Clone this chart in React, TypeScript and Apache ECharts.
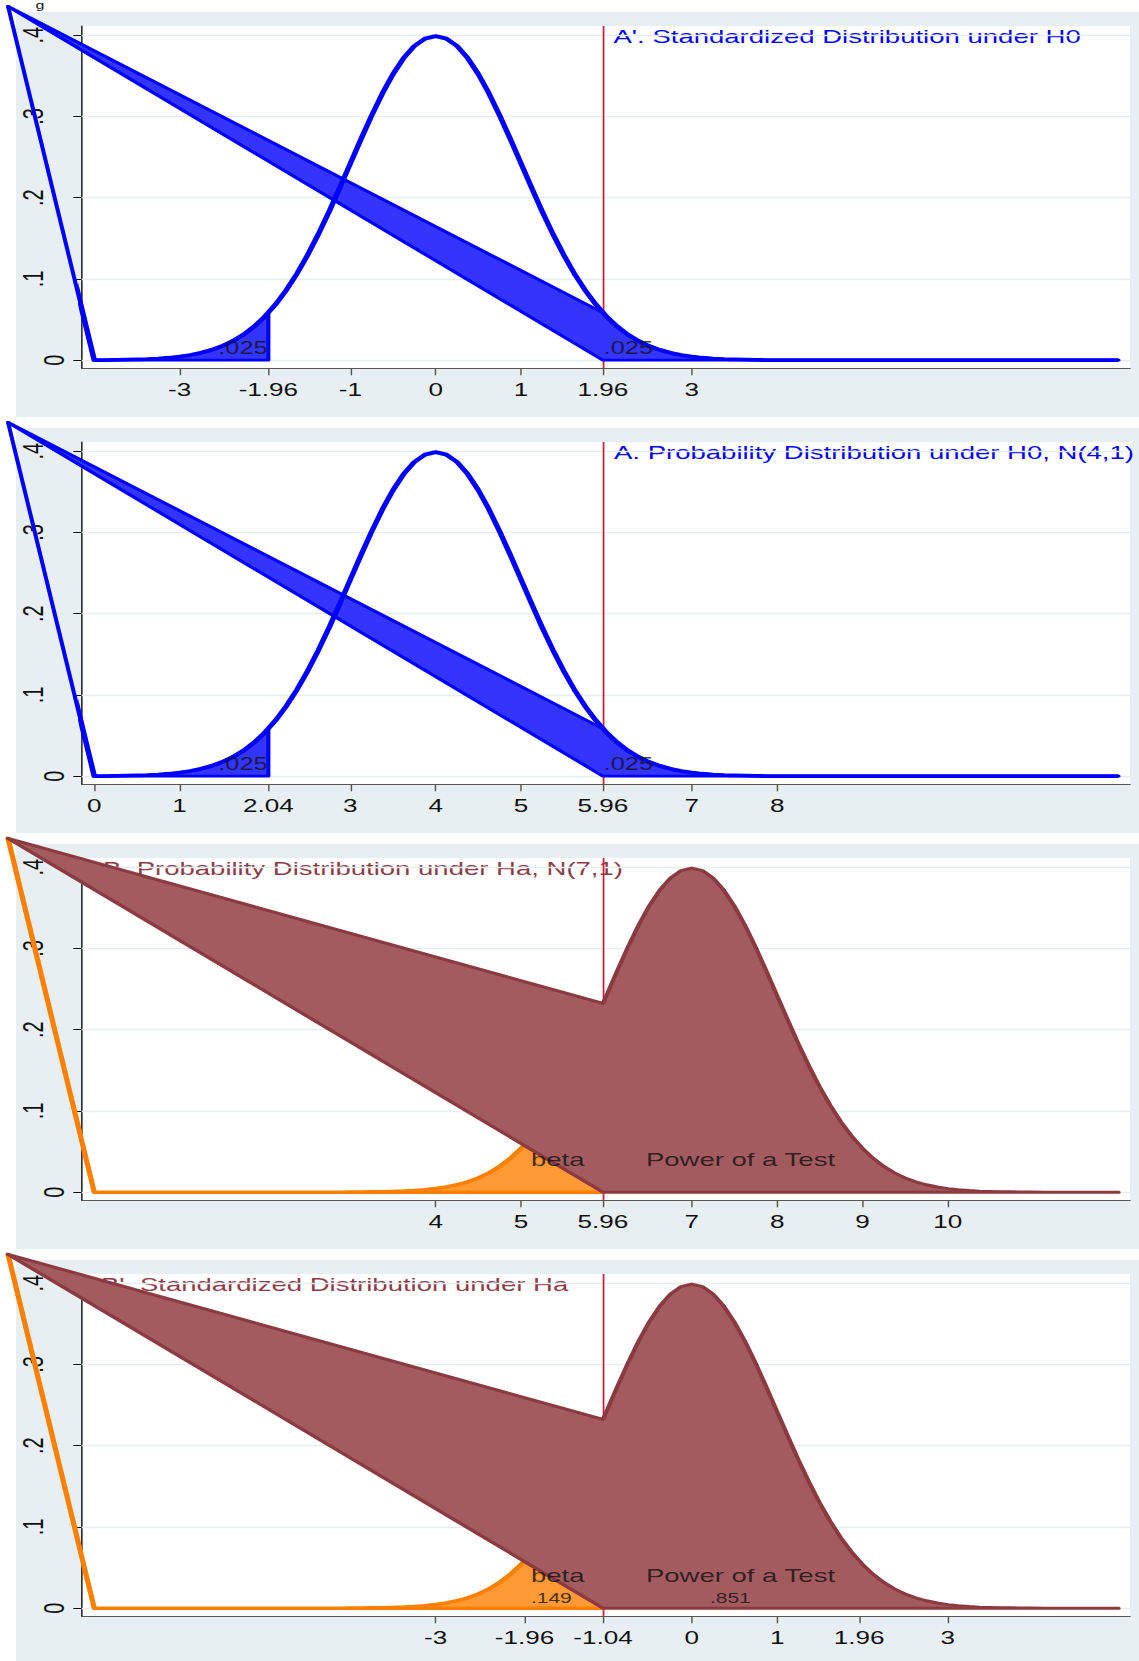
import React, { useEffect, useRef } from 'react';
import * as echarts from 'echarts';

// ---------------- data ----------------
const xGrid = [
  0, 0.125, 0.25, 0.375, 0.5, 0.625, 0.75, 0.875, 1, 1.125, 1.25, 1.375, 1.5, 1.625, 1.75, 1.875,
  2, 2.125, 2.25, 2.375, 2.5, 2.625, 2.75, 2.875, 3, 3.125, 3.25, 3.375, 3.5, 3.625, 3.75, 3.875,
  4, 4.125, 4.25, 4.375, 4.5, 4.625, 4.75, 4.875, 5, 5.125, 5.25, 5.375, 5.5, 5.625, 5.75, 5.875,
  6, 6.125, 6.25, 6.375, 6.5, 6.625, 6.75, 6.875, 7, 7.125, 7.25, 7.375, 7.5, 7.625, 7.75, 7.875,
  8, 8.125, 8.25, 8.375, 8.5, 8.625, 8.75, 8.875, 9, 9.125, 9.25, 9.375, 9.5, 9.625, 9.75, 9.875,
  10, 10.125, 10.25, 10.375, 10.5, 10.625, 10.75, 10.875, 11, 11.125, 11.25, 11.375, 11.5, 11.625, 11.75, 11.875,
  12,
];
// density of N(4,1) (H0) read at xGrid
const densityH0 = [
  0.0001, 0.0002, 0.0004, 0.0006, 0.0009, 0.0013, 0.002, 0.003, 0.0044, 0.0064, 0.0091, 0.0127, 0.0175, 0.0238, 0.0317, 0.0417,
  0.054, 0.0688, 0.0863, 0.1065, 0.1295, 0.155, 0.1826, 0.2119, 0.242, 0.2721, 0.3011, 0.3282, 0.3521, 0.3718, 0.3867, 0.3958,
  0.3989, 0.3958, 0.3867, 0.3718, 0.3521, 0.3282, 0.3011, 0.2721, 0.242, 0.2119, 0.1826, 0.155, 0.1295, 0.1065, 0.0863, 0.0688,
  0.054, 0.0417, 0.0317, 0.0238, 0.0175, 0.0127, 0.0091, 0.0064, 0.0044, 0.003, 0.002, 0.0013, 0.0009, 0.0006, 0.0004, 0.0002,
  0.0001, 0, 0, 0, 0, 0, 0, 0, 0, 0, 0, 0, 0, 0, 0, 0,
  0, 0, 0, 0, 0, 0, 0, 0, 0, 0, 0, 0, 0, 0, 0, 0,
  0,
];
// density of N(7,1) (Ha) read at xGrid
const densityHa = [
  0, 0, 0, 0, 0, 0, 0, 0, 0, 0, 0, 0, 0, 0, 0, 0,
  0, 0, 0, 0, 0, 0, 0, 0, 0.0001, 0.0002, 0.0004, 0.0006, 0.0009, 0.0013, 0.002, 0.003,
  0.0044, 0.0064, 0.0091, 0.0127, 0.0175, 0.0238, 0.0317, 0.0417, 0.054, 0.0688, 0.0863, 0.1065, 0.1295, 0.155, 0.1826, 0.2119,
  0.242, 0.2721, 0.3011, 0.3282, 0.3521, 0.3718, 0.3867, 0.3958, 0.3989, 0.3958, 0.3867, 0.3718, 0.3521, 0.3282, 0.3011, 0.2721,
  0.242, 0.2119, 0.1826, 0.155, 0.1295, 0.1065, 0.0863, 0.0688, 0.054, 0.0417, 0.0317, 0.0238, 0.0175, 0.0127, 0.0091, 0.0064,
  0.0044, 0.003, 0.002, 0.0013, 0.0009, 0.0006, 0.0004, 0.0002, 0.0001, 0, 0, 0, 0, 0, 0, 0,
  0,
];

const critLow = 2.04;
const critHigh = 5.96;
const densityH0AtCrit = 0.0584;
const densityHaAtCrit = 0.2323;
// stray first vertex of the drawn polygons (in N(4,1) axis units)
const strayVertex: [number, number] = [-1.01, 0.4355];

const ticksA1 = [-3, -1.96, -1, 0, 1, 1.96, 3];
const ticksA = [0, 1, 2.04, 3, 4, 5, 5.96, 7, 8];
const ticksB = [4, 5, 5.96, 7, 8, 9, 10];
const ticksB1 = [-3, -1.96, -1.04, 0, 1, 1.96, 3];
const yTicks = [0, 0.1, 0.2, 0.3, 0.4];

const titleA1 = "A'. Standardized Distribution under H0";
const titleA = 'A. Probability Distribution under H0, N(4,1)';
const titleB = 'B. Probability Distribution under Ha, N(7,1)';
const titleB1 = "B'. Standardized Distribution under Ha";

type Note = { x: number; y: number; text: string; side: 'left' | 'right'; size: number };
const notesA1: Note[] = [
  { x: -1.96, y: 0.0146, text: '.025', side: 'left', size: 17.5 },
  { x: 1.96, y: 0.0146, text: '.025', side: 'right', size: 17.5 },
];
const notesA: Note[] = [
  { x: 2.04, y: 0.0146, text: '.025', side: 'left', size: 17.5 },
  { x: 5.96, y: 0.0146, text: '.025', side: 'right', size: 17.5 },
];
const notesB: Note[] = [
  { x: 5.107, y: 0.0404, text: 'beta', side: 'right', size: 19 },
  { x: 6.454, y: 0.0404, text: 'Power of a Test', side: 'right', size: 19 },
];
const notesB1: Note[] = [
  { x: -1.893, y: 0.0404, text: 'beta', side: 'right', size: 19 },
  { x: -1.893, y: 0.0129, text: '.149', side: 'right', size: 14.5 },
  { x: -0.546, y: 0.0404, text: 'Power of a Test', side: 'right', size: 19 },
  { x: 0.204, y: 0.0129, text: '.851', side: 'right', size: 14.5 },
];

// ---------------- layout / style ----------------
const CHART_W = 786;
const STRETCH = 1139 / CHART_W;
const px = (v: number) => v / STRETCH;
const PANEL_STEP = 416;
const GRID_LEFT = 81.7;
const GRID_RIGHT = 1130;
const GRID_TOP = 26;
const GRID_H = 342.3;
const Y_MIN = -0.00997;
const Y_MAX = 0.41132;
const X_PAD_LEFT = 0.147;
const X_PAD_RIGHT = 0.134;
const FONT = "'Liberation Sans', Arial, Helvetica, sans-serif";
const BG = '#e8eff2';
const GRIDC = '#e6edf0';
const RED = '#cc1a3c';
const BLUE = '#0000ff';
const BLUE_FILL = '#3434ff';
const MAROON = '#8b3a40';
const MAROON_FILL = '#a45b60';
const ORANGE = '#ff8000';
const ORANGE_FILL = '#ff9a35';

type Pt = [number, number];

const gridPts = (ys: number[], pred: (x: number) => boolean): Pt[] =>
  xGrid.map((x, i) => [x, ys[i]] as Pt).filter(([x]) => pred(x));

const areaPolygon = (pts: Pt[]): Pt[] => [
  strayVertex,
  ...pts,
  [pts[pts.length - 1][0], 0],
  [pts[0][0], 0],
];

const shiftPts = (pts: Pt[], s: number): Pt[] => pts.map(([x, y]) => [x + s, y] as Pt);

const leftTailH0 = areaPolygon([...gridPts(densityH0, (x) => x < critLow), [critLow, densityH0AtCrit]]);
const rightTailH0 = areaPolygon([[critHigh, densityH0AtCrit], ...gridPts(densityH0, (x) => x > critHigh)]);
const betaHa = areaPolygon([...gridPts(densityHa, (x) => x < critHigh), [critHigh, densityHaAtCrit]]);
const powerHa = areaPolygon([[critHigh, densityHaAtCrit], ...gridPts(densityHa, (x) => x > critHigh)]);
const fullH0Line: Pt[] = [strayVertex, ...gridPts(densityH0, () => true)];

type Panel = {
  kind: 'H0' | 'Ha';
  shift: number;
  ticks: number[];
  title: string;
  titleX: number;
  titleColor: string;
  notes: Note[];
};

const panels: Panel[] = [
  { kind: 'H0', shift: -4, ticks: ticksA1, title: titleA1, titleX: 613.5, titleColor: BLUE, notes: notesA1 },
  { kind: 'H0', shift: 0, ticks: ticksA, title: titleA, titleX: 614, titleColor: BLUE, notes: notesA },
  { kind: 'Ha', shift: 0, ticks: ticksB, title: titleB, titleX: 103, titleColor: '#8c3c48', notes: notesB },
  { kind: 'Ha', shift: -7, ticks: ticksB1, title: titleB1, titleX: 101, titleColor: '#8c3c48', notes: notesB1 },
];

function polygonSeries(idx: number, pts: Pt[], fill: string, stroke: string, lw: number, z: number) {
  return {
    type: 'custom',
    xAxisIndex: idx,
    yAxisIndex: idx,
    clip: false,
    silent: true,
    z,
    data: [pts[0]],
    renderItem: (_params: any, api: any) => ({
      type: 'polygon',
      shape: { points: pts.map((p) => api.coord(p)) },
      style: { fill, stroke, lineWidth: lw, lineJoin: 'round' },
    }),
  };
}

function buildOption() {
  const grid: any[] = [];
  const xAxis: any[] = [];
  const yAxis: any[] = [];
  const series: any[] = [];
  const graphic: any[] = [];

  panels.forEach((p, i) => {
    const off = PANEL_STEP * i;
    grid.push({
      left: px(GRID_LEFT),
      right: px(1139 - GRID_RIGHT),
      top: GRID_TOP + off,
      height: GRID_H,
      show: true,
      backgroundColor: '#ffffff',
      borderWidth: 0,
      containLabel: false,
    });
    xAxis.push({
      type: 'value',
      gridIndex: i,
      min: p.shift - X_PAD_LEFT,
      max: p.shift + 12 + X_PAD_RIGHT,
      axisLine: { show: true, onZero: false, lineStyle: { color: '#555', width: 1 } },
      axisTick: { show: true, customValues: p.ticks, length: 7, lineStyle: { color: '#555', width: 1 } },
      axisLabel: {
        customValues: p.ticks,
        formatter: (v: number) => String(v),
        fontSize: 18,
        fontFamily: FONT,
        color: '#111',
        margin: 13,
      },
      splitLine: { show: false },
    });
    yAxis.push({
      type: 'value',
      gridIndex: i,
      min: Y_MIN,
      max: Y_MAX,
      axisLine: { show: true, onZero: false, lineStyle: { color: '#111', width: 1 } },
      axisTick: { show: true, customValues: yTicks, length: 5.8, lineStyle: { color: '#111', width: 1 } },
      axisLabel: {
        customValues: yTicks,
        rotate: 90,
        margin: 9.6,
        fontSize: 20,
        fontFamily: FONT,
        color: '#111',
        formatter: (v: number) => (v === 0 ? '{z|0}' : '{d|' + String(v).replace(/^0/, '') + '}'),
        rich: {
          z: { fontSize: 20, fontFamily: FONT, color: '#111' },
          d: { fontSize: 20, fontFamily: FONT, color: '#111', padding: [0, 0, 14, 0] },
        },
      },
      splitLine: { show: false },
    });

    graphic.push({
      type: 'rect',
      silent: true,
      z: -10,
      shape: { x: px(16), y: 12 + off, width: px(1139 - 16) + 4, height: 405 },
      style: { fill: BG },
    });
    graphic.push({
      type: 'text',
      silent: true,
      z: 1,
      x: px(p.titleX),
      y: 36.7 + off,
      style: {
        text: p.title,
        fill: p.titleColor,
        fontSize: 19,
        fontFamily: FONT,
        align: 'left',
        verticalAlign: 'middle',
      },
    });

    // grid lines + critical value line (kept beneath the filled areas)
    series.push({
      type: 'line',
      xAxisIndex: i,
      yAxisIndex: i,
      data: [],
      z: 1,
      silent: true,
      markLine: {
        z: 1,
        silent: true,
        symbol: 'none',
        animation: false,
        label: { show: false },
        emphasis: { disabled: true },
        data: [
          ...yTicks.map((v) => ({ yAxis: v, lineStyle: { color: GRIDC, width: 1.3, type: 'solid' } })),
          { xAxis: critHigh + p.shift, lineStyle: { color: RED, width: 1.2, type: 'solid' } },
        ],
      },
    });

    if (p.kind === 'H0') {
      series.push(polygonSeries(i, shiftPts(leftTailH0, p.shift), BLUE_FILL, BLUE, 2.8, 2));
      series.push(polygonSeries(i, shiftPts(rightTailH0, p.shift), BLUE_FILL, BLUE, 2.8, 2.2));
      series.push({
        type: 'line',
        xAxisIndex: i,
        yAxisIndex: i,
        data: shiftPts(fullH0Line, p.shift),
        showSymbol: false,
        symbol: 'none',
        clip: false,
        silent: true,
        z: 3,
        lineStyle: { color: BLUE, width: 3.8, join: 'round' },
      });
    } else {
      series.push(polygonSeries(i, shiftPts(betaHa, p.shift), ORANGE_FILL, ORANGE, 3.6, 2));
      series.push(polygonSeries(i, shiftPts(powerHa, p.shift), MAROON_FILL, MAROON, 3, 2.5));
    }

    series.push({
      type: 'scatter',
      xAxisIndex: i,
      yAxisIndex: i,
      z: 6,
      silent: true,
      clip: false,
      symbolSize: 1,
      itemStyle: { color: 'rgba(0,0,0,0)' },
      data: p.notes.map((n) => ({
        value: [n.x, n.y],
        label: {
          show: true,
          position: n.side,
          distance: 0,
          formatter: n.text,
          fontSize: n.size,
          fontFamily: FONT,
          color: '#111',
        },
      })),
    });
  });

  graphic.push({
    type: 'text',
    silent: true,
    z: 10,
    x: px(40),
    y: 0,
    style: { text: 'g', fill: '#111', fontSize: 11, fontFamily: FONT, align: 'center', verticalAlign: 'top' },
  });

  return {
    animation: false,
    backgroundColor: 'transparent',
    grid,
    xAxis,
    yAxis,
    series,
    graphic,
  };
}

export default function App() {
  const ref = useRef<HTMLDivElement>(null);
  useEffect(() => {
    document.body.style.margin = '0';
    document.body.style.overflow = 'hidden';
    const chart = echarts.init(ref.current as HTMLDivElement, null, { renderer: 'svg' });
    chart.setOption(buildOption() as any);
    return () => chart.dispose();
  }, []);
  return (
    <div
      style={{
        position: 'absolute',
        left: 0,
        top: 0,
        width: 1139,
        height: 1661,
        overflow: 'hidden',
        background: '#ffffff',
      }}
    >
      <div
        ref={ref}
        style={{ width: CHART_W, height: 1661, transform: `scaleX(${STRETCH})`, transformOrigin: '0 0' }}
      />
    </div>
  );
}
